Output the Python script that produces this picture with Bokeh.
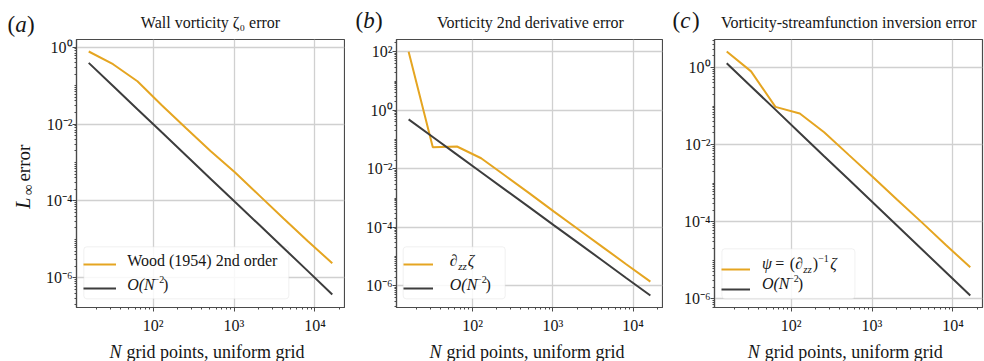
import math
from bokeh.plotting import figure
from bokeh.layouts import row, column
from bokeh.models import Label, Legend, LegendItem, FixedTicker, Range1d, BoxAnnotation
from bokeh.embed import file_html
from bokeh.resources import INLINE

# ---------------- data ----------------
n_points = [16, 32, 64, 128, 256, 512, 1024, 2048, 4096, 8192, 16384]

wood_err = [0.77, 0.36, 0.13, 0.031, 0.0078, 0.002, 5.6e-4, 1.4e-4, 3.5e-5, 9.0e-6, 2.4e-6]
ref_a = [0.39, 0.098, 0.0244, 6.1e-3, 1.53e-3, 3.8e-4, 9.5e-5, 2.4e-5, 6.0e-6, 1.5e-6, 3.7e-7]

dzz_err = [100.0, 0.055, 0.058, 0.023, 5.8e-3, 1.45e-3, 3.5e-4, 8.8e-5, 2.2e-5, 5.5e-6, 1.4e-6]
ref_b = [0.49, 0.122, 0.0305, 7.6e-3, 1.9e-3, 4.8e-4, 1.19e-4, 3.0e-5, 7.5e-6, 1.86e-6, 4.7e-7]

inv_err = [2.6, 0.79, 0.095, 0.064, 0.021, 5.5e-3, 1.45e-3, 3.7e-4, 9.8e-5, 2.5e-5, 6.6e-6]
ref_c = [1.29, 0.322, 0.0806, 0.0201, 5.0e-3, 1.26e-3, 3.15e-4, 7.9e-5, 1.97e-5, 4.9e-6, 1.23e-6]

x_ticks = [1e2, 1e3, 1e4]
x_tick_labels = ["10²", "10³", "10⁴"]
y_ticks_a = [1e0, 1e-2, 1e-4, 1e-6]
y_tick_labels_a = ["10⁰", "10⁻²", "10⁻⁴", "10⁻⁶"]
y_ticks_b = [1e2, 1e0, 1e-2, 1e-4, 1e-6]
y_tick_labels_b = ["10²", "10⁰", "10⁻²", "10⁻⁴", "10⁻⁶"]
y_ticks_c = [1e0, 1e-2, 1e-4, 1e-6]
y_tick_labels_c = ["10⁰", "10⁻²", "10⁻⁴", "10⁻⁶"]

titles = ["Wall vorticity ζ₀ error", "Vorticity 2nd derivative error",
          "Vorticity-streamfunction inversion error"]
panel_letters = ["a", "b", "c"]
x_label_rest = "grid points, uniform grid"

# ---------------- style ----------------
YELLOW = "#E5A521"
DARK = "#3d3d3d"
SPINE = "#4a4a4a"
GRID = "#d0d0d0"
FONT = "Liberation Serif"
TXT = "#161616"

W = 984
TOP_H = 38
MAIN_H = 298
BOT_H = 361 - TOP_H - MAIN_H
LEFT_W = 38
FRAME_LEFT = [76, 396, 714.3]
FRAME_BOTTOM = 307.0

minor_x = [m * 10 ** d for d in range(1, 5) for m in range(2, 10)]


def minor_y(major):
    out = []
    for d in range(-8, 4):
        for m in range(1, 10):
            v = m * 10.0 ** d
            if m == 1 and any(abs(v - t) / t < 1e-9 for t in major):
                continue
            out.append(v)
    return out


def strip(width, height, x0, x1, y0, y1):
    s = figure(width=width, height=height, x_range=Range1d(x0, x1),
               y_range=Range1d(y1, y0), x_axis_type=None, y_axis_type=None,
               output_backend="svg", toolbar_location=None,
               min_border=0, min_border_left=0, min_border_right=0,
               min_border_top=0, min_border_bottom=0)
    s.outline_line_color = None
    s.background_fill_color = "white"
    s.border_fill_color = "white"
    return s


def stext(s, X, Y, text, size=16, style="normal", align="left",
          baseline="alphabetic", angle=0.0):
    s.add_layout(Label(x=X, y=Y, text=text, text_font=FONT,
                       text_font_size=f"{size}px", text_font_style=style,
                       text_align=align, text_baseline=baseline, angle=angle,
                       text_color=TXT))


def make_fig(width, left, right, yr, yt, ytl):
    p = figure(width=width, height=MAIN_H, x_axis_type="log", y_axis_type="log",
               x_range=Range1d(11.3, 23200), y_range=Range1d(*yr),
               output_backend="svg", toolbar_location=None,
               min_border_left=left, min_border_right=right,
               min_border_top=1, min_border_bottom=MAIN_H - 1 - 268)
    p.background_fill_color = "white"
    p.border_fill_color = "white"
    p.outline_line_color = SPINE
    p.outline_line_width = 1.2
    p.xaxis.ticker = FixedTicker(ticks=x_ticks, minor_ticks=minor_x)
    p.yaxis.ticker = FixedTicker(ticks=yt, minor_ticks=minor_y(yt))
    p.xaxis.major_label_overrides = dict(zip(x_ticks, x_tick_labels))
    p.yaxis.major_label_overrides = dict(zip(yt, ytl))
    for ax in (p.xaxis, p.yaxis):
        ax.axis_line_color = SPINE
        ax.axis_line_width = 1.2
        ax.major_tick_line_color = SPINE
        ax.minor_tick_line_color = SPINE
        ax.major_tick_in = 0
        ax.major_tick_out = 4
        ax.minor_tick_in = 0
        ax.minor_tick_out = 2
        ax.major_label_text_font = FONT
        ax.major_label_text_font_size = "16px"
        ax.major_label_text_color = TXT
    p.yaxis.major_label_standoff = 0
    p.xaxis.major_label_standoff = 5
    p.xgrid.grid_line_color = GRID
    p.ygrid.grid_line_color = GRID
    p.xgrid.grid_line_width = 1.3
    p.ygrid.grid_line_width = 1.3
    return p


def frag(p, i, X, Y, text, size=16, style="normal"):
    p.add_layout(Label(x=X - FRAME_LEFT[i], y=FRAME_BOTTOM - Y,
                       x_units="screen", y_units="screen", text=text,
                       text_font=FONT, text_font_size=f"{size}px",
                       text_font_style=style, text_align="left",
                       text_baseline="middle", text_color=TXT))


def add_legend(p, r1, r2, loc_x, loc_y, pad, gh, sp, gw, standoff, lw):
    bw = 2 * pad + gw + standoff + lw
    bh = 2 * pad + 2 * gh + sp
    p.add_layout(BoxAnnotation(left=loc_x, right=loc_x + bw, bottom=loc_y,
                               top=loc_y + bh, left_units="screen",
                               right_units="screen", bottom_units="screen",
                               top_units="screen", fill_color="white",
                               fill_alpha=0.85, line_color="#cfcfcf",
                               line_width=1, border_radius=3, level="underlay"))
    leg = Legend(items=[LegendItem(label=" ", renderers=[r1]),
                        LegendItem(label=" ", renderers=[r2])],
                 location=(loc_x, loc_y), margin=0, padding=pad,
                 glyph_height=gh, label_height=gh, spacing=sp,
                 glyph_width=gw, label_standoff=standoff, label_width=lw,
                 border_line_color=None, background_fill_alpha=0.0,
                 label_text_font_size="8px")
    p.add_layout(leg)


def sup_O(p, i, X, Y):
    frag(p, i, X, Y, "O(N", 16, "italic")
    frag(p, i, X + 26.3, Y - 5, "−2", 10)
    frag(p, i, X + 35.8, Y, ")", 16)


series = [(wood_err, ref_a), (dzz_err, ref_b), (inv_err, ref_c)]
widths = [345 - LEFT_W, 318, 321]
lefts = [76 - LEFT_W, 51, 51]
rights = [1, 1, 2]
yranges = [(1.7e-7, 1.58), (1.82e-7, 263.0), (6.0e-7, 5.3)]
yticks = [(y_ticks_a, y_tick_labels_a), (y_ticks_b, y_tick_labels_b),
          (y_ticks_c, y_tick_labels_c)]
letter_pos = [(7, 24), (355, 20), (672, 20)]

top = strip(W, TOP_H, 0, W, 0, TOP_H)
bottom = strip(W, BOT_H, 0, W, TOP_H + MAIN_H, 361)
left = strip(LEFT_W, MAIN_H, 0, LEFT_W, TOP_H, TOP_H + MAIN_H)

figs = []
for i in range(3):
    p = make_fig(widths[i], lefts[i], rights[i], yranges[i], *yticks[i])
    err, ref = series[i]
    r1 = p.line(n_points, err, line_color=YELLOW, line_width=2)
    r2 = p.line(n_points, ref, line_color=DARK, line_width=2)
    figs.append((p, r1, r2))

    fc = FRAME_LEFT[i] + 134
    stext(top, fc, 22, titles[i], 16, align="center")
    lx, ly = letter_pos[i]
    stext(top, lx, ly, "(", 23)
    stext(top, lx + 7.8, ly, panel_letters[i], 23, "italic")
    stext(top, lx + 19.5, ly, ")", 23)
    stext(bottom, fc - 89, 351, "N", 18, "italic", align="right")
    stext(bottom, fc - 84, 351, x_label_rest, 18)

# y label of panel (a): rotated pieces, anchored at their centres
stext(left, 22, 220, "L", 20, "italic", align="center", baseline="middle",
      angle=math.pi / 2)
stext(left, 27, 205, "∞", 15, align="center", baseline="middle",
      angle=math.pi / 2)
stext(left, 23, 175.5, "error", 19, align="center", baseline="middle",
      angle=math.pi / 2)

pa, ra1, ra2 = figs[0]
pb, rb1, rb2 = figs[1]
pc, rc1, rc2 = figs[2]

# legends
add_legend(pa, ra1, ra2, 7.3, 8.7, 4, 20, 4, 33, 6, 158)
frag(pa, 0, 126.7, 260.3, "Wood (1954) 2nd order", 16)
sup_O(pa, 0, 126.7, 284.3)

add_legend(pb, rb1, rb2, 6.7, 8.7, 4, 20, 4, 30, 8, 56)
frag(pb, 1, 449.3, 260.3, "∂", 16)
frag(pb, 1, 457.8, 265.3, "zz", 11, "italic")
frag(pb, 1, 467.3, 260.3, "ζ", 16, "italic")
sup_O(pb, 1, 449.3, 284.3)

add_legend(pc, rc1, rc2, 7.4, 8.7, 6, 18, 2, 29, 4, 88)
frag(pc, 2, 761.7, 263.3, "ψ", 16, "italic")
frag(pc, 2, 775, 263.3, "=", 16)
frag(pc, 2, 789.5, 263.3, "(", 16)
frag(pc, 2, 795, 263.3, "∂", 16)
frag(pc, 2, 803, 268.3, "zz", 11, "italic")
frag(pc, 2, 812.5, 263.3, ")", 16)
frag(pc, 2, 818, 258.3, "−1", 10)
frag(pc, 2, 830, 263.3, "ζ", 16, "italic")
sup_O(pc, 2, 761.7, 283.3)

layout = column(top, row(left, pa, pb, pc), bottom)
open("out.html", "w").write(file_html(layout, INLINE))
